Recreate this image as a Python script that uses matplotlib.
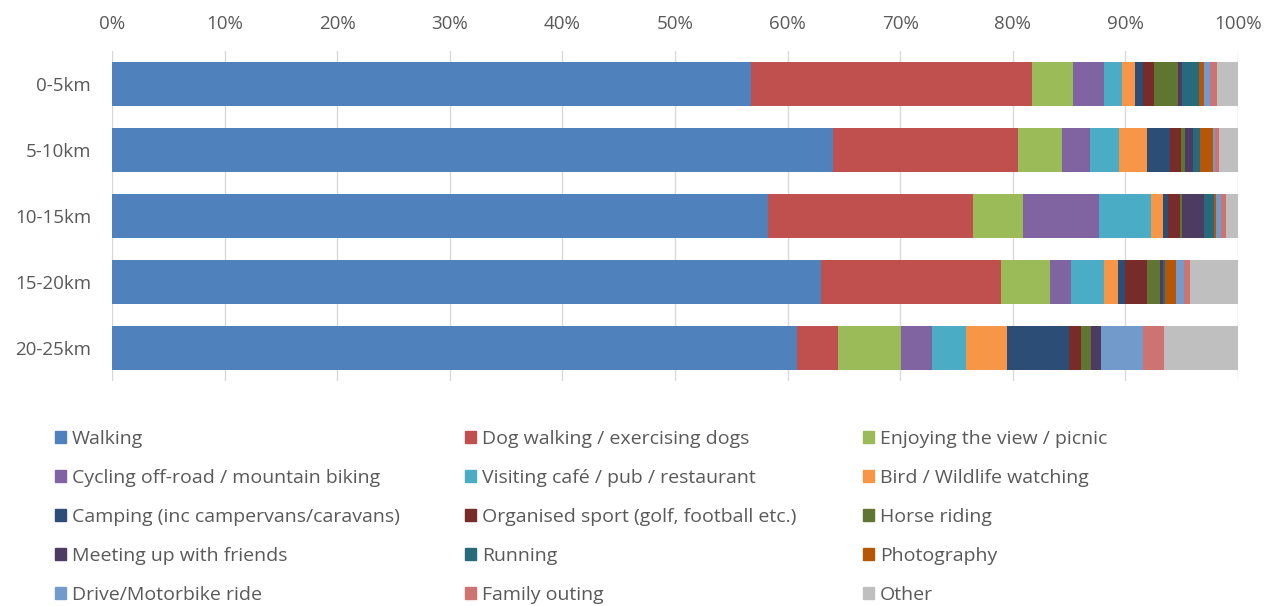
import matplotlib.pyplot as plt
import matplotlib.patches as mpatches
import numpy as np

plt.rcParams["font.family"] = ["Open Sans", "DejaVu Sans"]

distances = ["0-5km", "5-10km", "10-15km", "15-20km", "20-25km"]

activities = [
    "Walking", "Dog walking / exercising dogs", "Enjoying the view / picnic",
    "Cycling off-road / mountain biking", "Visiting café / pub / restaurant", "Bird / Wildlife watching",
    "Camping (inc campervans/caravans)", "Organised sport (golf, football etc.)", "Horse riding",
    "Meeting up with friends", "Running", "Photography",
    "Drive/Motorbike ride", "Family outing", "Other",
]

colors = [
    "#4F81BD", "#C0504D", "#9BBB59",
    "#8064A2", "#4BACC6", "#F79646",
    "#2C4D75", "#772C2A", "#5F7530",
    "#4D3B62", "#276A7C", "#B65708",
    "#729ACA", "#CD7371", "#BFBFBF",
]

# share (%) of each activity per distance band, order follows `activities`
share_0_5 = [56.75, 24.95, 3.65, 2.75, 1.6, 1.15, 0.75, 0.9, 2.2, 0.3, 1.5, 0.45, 0.55, 0.65, 1.85]
share_5_10 = [64.0, 16.5, 3.9, 2.5, 2.55, 2.5, 2.0, 1.0, 0.3, 0.75, 0.65, 1.1, 0.2, 0.35, 1.7]
share_10_15 = [58.35, 18.2, 4.5, 6.75, 4.65, 1.05, 0.45, 1.05, 0.2, 1.95, 0.85, 0.2, 0.4, 0.45, 1.1]
share_15_20 = [63.15, 16.0, 4.35, 1.85, 3.0, 1.25, 0.55, 2.0, 1.2, 0.2, 0.2, 1.0, 0.7, 0.5, 4.3]
share_20_25 = [60.85, 3.65, 5.6, 2.75, 3.0, 3.65, 5.5, 1.05, 0.9, 0.9, 0.0, 0.0, 3.75, 1.85, 6.55]

data = np.array([share_0_5, share_5_10, share_10_15, share_15_20, share_20_25])
data = data / data.sum(axis=1, keepdims=True) * 100

text_color = "#595959"

fig = plt.figure(figsize=(12.82, 6.06), dpi=100)
ax = fig.add_axes([112 / 1282, 1 - 381 / 606, 1126 / 1282, 330 / 606])

y = np.arange(len(distances))
left = np.zeros(len(distances))
handles = []
for i, name in enumerate(activities):
    ax.barh(y, data[:, i], left=left, height=0.68, color=colors[i], linewidth=0, zorder=3)
    left += data[:, i]
    handles.append(mpatches.Patch(color=colors[i], label=name))

ax.set_xlim(0, 100)
ax.set_ylim(len(distances) - 0.5, -0.5)
ax.set_yticks(y)
ax.set_yticklabels(distances)
ax.set_xticks(np.arange(0, 101, 10))
ax.set_xticklabels([f"{v}%" for v in range(0, 101, 10)])
ax.xaxis.tick_top()
ax.tick_params(axis="both", length=0, labelsize=13.5, colors=text_color)
ax.tick_params(axis="x", pad=13)
ax.tick_params(axis="y", pad=15)
ax.grid(axis="x", color="#D9D9D9", linewidth=1, zorder=0)
for s in ax.spines.values():
    s.set_visible(False)

# legend laid out row by row in three columns
col_x = [55 / 1282, 465 / 1282, 863 / 1282]
for c in range(3):
    col_handles = handles[c::3]
    leg = fig.legend(
        handles=col_handles,
        loc="upper left",
        bbox_to_anchor=(col_x[c], 1 - 430 / 606),
        frameon=False,
        fontsize=14,
        handlelength=0.56,
        handleheight=0.56,
        handletextpad=0.3,
        labelspacing=1.08,
        borderaxespad=0,
        borderpad=0,
    )
    for t in leg.get_texts():
        t.set_color(text_color)

fig.savefig("out.png", dpi=100)
